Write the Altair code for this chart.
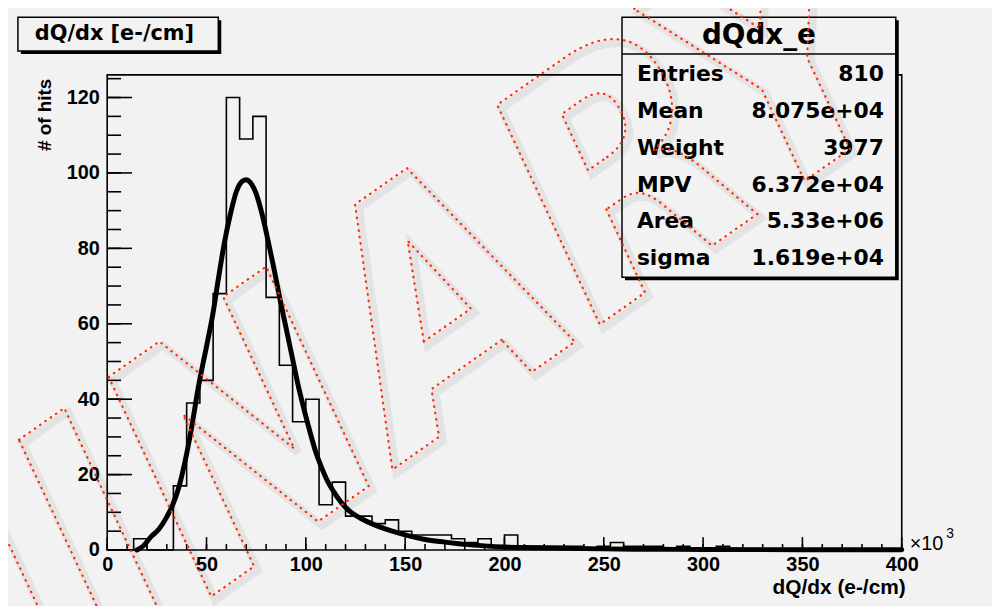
import altair as alt
import pandas as pd

BG = "#f2f2f2"

# ---------------- data ----------------
x_min, x_max, n_bins = 0, 400, 60
y_top = 126
counts = [0, 0, 3, 0, 0, 17, 39, 45, 68, 120,
          109, 115, 67, 49, 34, 40, 12, 18, 9, 9,
          7, 8, 5, 4, 4, 4, 3, 2, 3, 1,
          4, 1, 1, 1, 1, 1, 0, 1, 2, 1,
          1, 1, 0, 1, 0, 0, 1, 0, 0, 0,
          0, 0, 0, 0, 0, 0, 0, 0, 0, 0]

curve_x = [15, 18, 22, 26, 30, 33, 36, 39, 42, 46, 50, 53, 56, 59, 62, 65, 68, 70,
           72, 75, 78, 81, 84, 87, 90, 93, 96, 99, 102, 105, 108, 111, 114, 118,
           122, 128, 134, 140, 146, 153, 160, 170, 180, 190, 200, 215, 230, 250,
           275, 300, 350, 400]
curve_y = [0.0, 1.0, 3.5, 5.5, 8.8, 12, 16.5, 23, 31, 43.5, 54, 62, 72, 81.5, 89, 95,
           97.8, 98.2, 97.5, 94.5, 89, 82, 74.5, 66.5, 59, 51.5, 44, 37.5, 31.5, 26,
           21.8, 18.2, 15.5, 12.5, 10.3, 8.3, 6.8, 5.6, 4.6, 3.6, 2.8, 2.1, 1.5, 1.1,
           0.8, 0.6, 0.45, 0.3, 0.2, 0.15, 0.08, 0.05]

x_major = list(range(0, 401, 50))
x_minor = list(range(0, 401, 10))
y_major = list(range(0, 121, 20))
y_minor = list(range(0, 126, 5))

hist_title = "dQ/dx [e-/cm]"
x_title = "dQ/dx (e-/cm)"
y_title = "# of hits"
stats_title = "dQdx_e"
stat_names = ["Entries", "Mean", "Weight", "MPV", "Area", "sigma"]
stat_values = ["810", "8.075e+04", "3977", "6.372e+04", "5.33e+06", "1.619e+04"]
watermark = "PRELIMINARY"

# ---------------- build ----------------
W, H = 801, 479
edges = [x_min + i * (x_max - x_min) / n_bins for i in range(n_bins + 1)]
hist_df = pd.DataFrame({"x": edges, "y": counts + [counts[-1]]})
curve_df = pd.DataFrame({"x": curve_x, "y": curve_y})
one = pd.DataFrame({"a": [0]})

xs = alt.Scale(domain=[x_min, x_max], nice=False, zero=False)
ys = alt.Scale(domain=[0, y_top], nice=False, zero=False)

lab = dict(labelFont="Liberation Sans", labelFontWeight="bold", labelFontSize=20,
           labelColor="black", ticks=False, tickSize=0, domain=False, grid=False,
           labelOverlap=False)

hist = alt.Chart(hist_df).mark_line(interpolate="step-after", color="black",
                                    strokeWidth=1.6).encode(
    x=alt.X("x:Q", scale=xs, title=None,
            axis=alt.Axis(values=x_major, labelPadding=5, labelFlush=False, **lab)),
    y=alt.Y("y:Q", scale=ys, title=None,
            axis=alt.Axis(values=y_major, labelPadding=8, **lab)),
)

curve = alt.Chart(curve_df).mark_line(interpolate="monotone", color="black",
                                      strokeWidth=5, strokeCap="round").encode(
    x=alt.X("x:Q", scale=xs), y=alt.Y("y:Q", scale=ys))


def xtick(vals, length):
    return alt.Chart(pd.DataFrame({"v": vals})).mark_rule(color="black", strokeWidth=1.6).encode(
        x=alt.X("v:Q", scale=xs), y=alt.value(H), y2=alt.value(H - length))


def ytick(vals, length):
    return alt.Chart(pd.DataFrame({"v": vals})).mark_rule(color="black", strokeWidth=1.6).encode(
        y=alt.Y("v:Q", scale=ys), x=alt.value(0), x2=alt.value(length))


def box(x1, y1, x2, y2, shadow=3):
    sh = alt.Chart(one).mark_rect(fill="black").encode(
        x=alt.value(x1 + shadow), x2=alt.value(x2 + shadow),
        y=alt.value(y1 + shadow), y2=alt.value(y2 + shadow))
    bx = alt.Chart(one).mark_rect(fill=BG, stroke="black", strokeWidth=1.5).encode(
        x=alt.value(x1), x2=alt.value(x2), y=alt.value(y1), y2=alt.value(y2))
    return [sh, bx]


def txt(s, x, y, size, align="left", baseline="middle", angle=0, font="DejaVu Sans",
        weight="bold"):
    kw = dict(text=s, font=font, fontSize=size, fontWeight=weight, align=align,
              baseline=baseline, color="black")
    if angle:
        kw["angle"] = angle
    return alt.Chart(one).mark_text(**kw).encode(x=alt.value(x), y=alt.value(y))


layers = [hist, curve,
          xtick(x_minor, 6), xtick(x_major, 13),
          ytick(y_minor, 14), ytick(y_major, 25)]

# stats box
layers += box(519, -58, 795, 204)
layers.append(alt.Chart(one).mark_rule(color="black", strokeWidth=1.5).encode(
    x=alt.value(519), x2=alt.value(795), y=alt.value(-21)))
layers.append(txt(stats_title, 657, -39, 28, align="center"))
for i, (n, v) in enumerate(zip(stat_names, stat_values)):
    yy = -1 + i * 37.2
    layers.append(txt(n, 534, yy, 22))
    layers.append(txt(v, 783, yy, 22, align="right"))

# title box
layers += box(-90, -58, 112, -24)
layers.append(txt(hist_title, -73, -41, 21))

# axis titles and exponent
layers.append(txt(y_title, -63, 4, 19, align="right", angle=270, font="Liberation Sans"))
layers.append(txt(x_title, 805, 517, 21, align="right", font="Liberation Sans"))
layers.append(txt("\u00d710", 809, 479, 20, baseline="alphabetic", font="Liberation Sans",
                  weight="normal"))
layers.append(txt("3", 846, 467, 14, baseline="alphabetic", font="Liberation Sans",
                  weight="normal"))

# watermark
wm = dict(text=watermark,
          font="'Liberation Sans Narrow', 'DejaVu Sans Condensed', 'Liberation Sans'",
          fontSize=330, fontWeight="bold", fontStyle="italic", angle=325, align="right",
          baseline="alphabetic")
layers.append(alt.Chart(one).mark_text(fillOpacity=0, stroke="black", strokeOpacity=0.06,
                                       strokeWidth=8, **wm).encode(
    x=alt.value(834), y=alt.value(22)))
layers.append(alt.Chart(one).mark_text(fillOpacity=0, stroke="#ff2a00", strokeWidth=2.2,
                                       strokeDash=[0.5, 6], strokeCap="round", **wm).encode(
    x=alt.value(830), y=alt.value(18)))

chart = alt.layer(*layers).properties(
    width=W, height=H, background=BG,
    padding={"left": 100, "top": 65, "right": 91, "bottom": 54},
    autosize=alt.AutoSizeParams(type="none"),
).configure_view(stroke="black", strokeWidth=1.6, fill=BG)

chart.save("out.html", embed_options={"renderer": "svg", "actions": False})
